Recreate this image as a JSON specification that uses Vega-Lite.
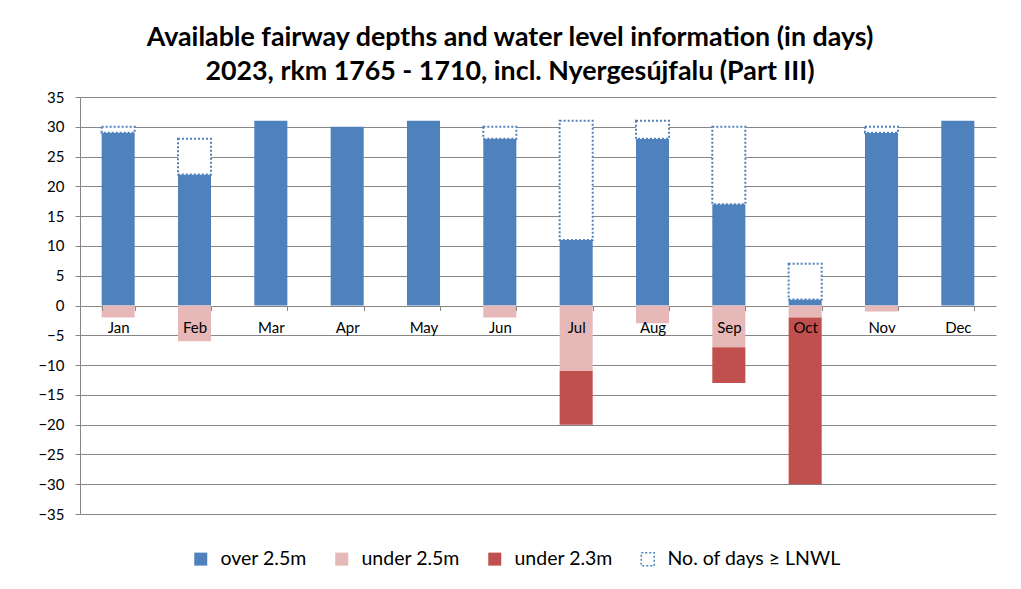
{
  "$schema": "https://vega.github.io/schema/vega-lite/v6.json",
  "width": 916,
  "height": 417,
  "autosize": {"type": "none"},
  "padding": {"left": 80, "top": 97, "right": 25, "bottom": 75},
  "background": "white",
  "config": {
    "view": {"stroke": null},
    "font": "Lato"
  },
  "title": {
    "text": ["Available fairway depths and water level information (in days)", "2023, rkm 1765 - 1710, incl. Nyergesújfalu (Part III)"],
    "font": "Lato",
    "fontSize": 26.8,
    "fontWeight": "bold",
    "color": "black",
    "lineHeight": 34,
    "anchor": "middle",
    "dx": -28,
    "offset": 4
  },
  "data": {
    "values": [
      {"month": "Jan", "series": "over 2.5m", "days": 29},
      {"month": "Jan", "series": "No. of days ≥ LNWL", "days": 1},
      {"month": "Jan", "series": "under 2.5m", "days": -2},
      {"month": "Feb", "series": "over 2.5m", "days": 22},
      {"month": "Feb", "series": "No. of days ≥ LNWL", "days": 6},
      {"month": "Feb", "series": "under 2.5m", "days": -6},
      {"month": "Mar", "series": "over 2.5m", "days": 31},
      {"month": "Apr", "series": "over 2.5m", "days": 30},
      {"month": "May", "series": "over 2.5m", "days": 31},
      {"month": "Jun", "series": "over 2.5m", "days": 28},
      {"month": "Jun", "series": "No. of days ≥ LNWL", "days": 2},
      {"month": "Jun", "series": "under 2.5m", "days": -2},
      {"month": "Jul", "series": "over 2.5m", "days": 11},
      {"month": "Jul", "series": "No. of days ≥ LNWL", "days": 20},
      {"month": "Jul", "series": "under 2.5m", "days": -11},
      {"month": "Jul", "series": "under 2.3m", "days": -9},
      {"month": "Aug", "series": "over 2.5m", "days": 28},
      {"month": "Aug", "series": "No. of days ≥ LNWL", "days": 3},
      {"month": "Aug", "series": "under 2.5m", "days": -3},
      {"month": "Sep", "series": "over 2.5m", "days": 17},
      {"month": "Sep", "series": "No. of days ≥ LNWL", "days": 13},
      {"month": "Sep", "series": "under 2.5m", "days": -7},
      {"month": "Sep", "series": "under 2.3m", "days": -6},
      {"month": "Oct", "series": "over 2.5m", "days": 1},
      {"month": "Oct", "series": "No. of days ≥ LNWL", "days": 6},
      {"month": "Oct", "series": "under 2.5m", "days": -2},
      {"month": "Oct", "series": "under 2.3m", "days": -28},
      {"month": "Nov", "series": "over 2.5m", "days": 29},
      {"month": "Nov", "series": "No. of days ≥ LNWL", "days": 1},
      {"month": "Nov", "series": "under 2.5m", "days": -1},
      {"month": "Dec", "series": "over 2.5m", "days": 31}
    ]
  },
  "mark": {"type": "bar", "strokeWidth": 2},
  "encoding": {
    "x": {
      "field": "month",
      "type": "nominal",
      "sort": ["Jan", "Feb", "Mar", "Apr", "May", "Jun", "Jul", "Aug", "Sep", "Oct", "Nov", "Dec"],
      "scale": {"paddingInner": 0.567, "paddingOuter": 0.2835},
      "axis": {
        "title": null,
        "orient": "bottom",
        "offset": -208.5,
        "tickBand": "extent",
        "ticks": true,
        "tickSize": 5,
        "tickColor": "#868686",
        "domain": false,
        "grid": false,
        "labelAngle": 0,
        "labelFont": "Lato",
        "labelFontSize": 15,
        "labelColor": "black",
        "labelPadding": 10,
        "zindex": 1
      }
    },
    "y": {
      "field": "days",
      "type": "quantitative",
      "stack": "zero",
      "scale": {"domain": [-35, 35], "nice": false, "zero": false},
      "axis": {
        "title": null,
        "values": [-35, -30, -25, -20, -15, -10, -5, 0, 5, 10, 15, 20, 25, 30, 35],
        "grid": true,
        "gridColor": "#868686",
        "gridOpacity": 1,
        "domainColor": "#868686",
        "tickColor": "#868686",
        "tickSize": 5,
        "labelFont": "Lato",
        "labelFontSize": 15,
        "labelColor": "black",
        "labelPadding": 11
      }
    },
    "order": {"field": "series", "sort": "descending"},
    "color": {
      "field": "series",
      "type": "nominal",
      "scale": {
        "domain": ["over 2.5m", "under 2.5m", "under 2.3m", "No. of days ≥ LNWL"],
        "range": ["#4F81BD", "#E6B9B8", "#C0504D", "#FFFFFF"]
      },
      "legend": {
        "title": null,
        "orient": "none",
        "direction": "horizontal",
        "legendX": 111,
        "legendY": 452,
        "symbolType": "square",
        "symbolSize": 169,
        "labelFont": "Lato",
        "labelFontSize": 19.5,
        "labelColor": "black",
        "labelLimit": 400,
        "columnPadding": 25,
        "labelOffset": 10
      }
    },
    "stroke": {
      "field": "series",
      "type": "nominal",
      "scale": {
        "domain": ["over 2.5m", "under 2.5m", "under 2.3m", "No. of days ≥ LNWL"],
        "range": ["transparent", "transparent", "transparent", "#4F81BD"]
      }
    },
    "strokeDash": {
      "field": "series",
      "type": "nominal",
      "scale": {
        "domain": ["over 2.5m", "under 2.5m", "under 2.3m", "No. of days ≥ LNWL"],
        "range": [[1, 0], [1, 0], [1, 0], [2, 2]]
      }
    }
  }
}
